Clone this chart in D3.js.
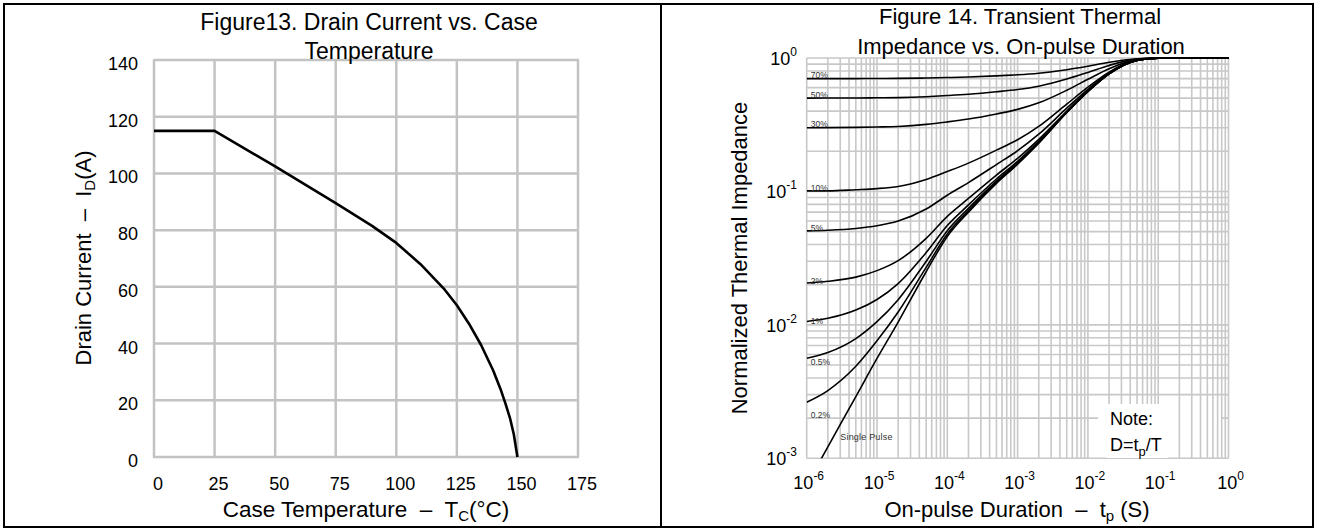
<!DOCTYPE html>
<html>
<head>
<meta charset="utf-8">
<script src="https://cdn.jsdelivr.net/npm/d3@7"></script>
<style>
body { margin: 0; background: #fff; }
svg { display: block; font-family: "Liberation Sans", Arial, sans-serif; }
</style>
</head>
<body>
<div id="chart"></div>
<script>
// Figure 13 : drain current vs case temperature
const caseTemp = [0, 25, 50, 75, 90, 100, 110, 120, 125, 130, 135, 140, 143, 145, 147, 148.5, 150];
const drainCurrent = [115, 115, 102.5, 89.5, 81.5, 75.5, 68, 59, 53.5, 47, 39.5, 30.5, 24, 19, 13.5, 8, 0];
const tempTicks = [0, 25, 50, 75, 100, 125, 150, 175];
const currentTicks = [0, 20, 40, 60, 80, 100, 120, 140];

// Figure 14 : transient thermal impedance
const pulseTime = [1e-6, 2e-6, 5e-6, 1e-5, 2e-5, 5e-5, 1e-4, 2e-4, 5e-4, 1e-3, 2e-3, 5e-3, 1e-2, 2e-2, 5e-2, 1e-1, 1];
const singlePulse = [0.00063, 0.00122, 0.0029, 0.0056, 0.0105, 0.025, 0.046, 0.07, 0.115, 0.16, 0.23, 0.39, 0.56, 0.76, 0.96, 0.995, 1];
const dutyLabels = ["70%", "50%", "30%", "10%", "5%", "2%", "1%", "0.5%", "0.2%"];
const dutyStart = [0.7, 0.5, 0.3, 0.1, 0.05, 0.02, 0.01, 0.005, 0.002];
const duty70 = [0.700, 0.700, 0.701, 0.702, 0.703, 0.708, 0.714, 0.721, 0.735, 0.748, 0.769, 0.817, 0.868, 0.928, 0.988, 0.999, 1];
const duty50 = [0.500, 0.501, 0.501, 0.503, 0.505, 0.513, 0.523, 0.535, 0.558, 0.580, 0.615, 0.695, 0.780, 0.880, 0.980, 0.998, 1];
const duty30 = [0.300, 0.301, 0.302, 0.304, 0.307, 0.318, 0.332, 0.349, 0.381, 0.412, 0.461, 0.573, 0.692, 0.832, 0.972, 0.997, 1];
const duty10 = [0.101, 0.101, 0.103, 0.105, 0.109, 0.123, 0.141, 0.163, 0.204, 0.244, 0.307, 0.451, 0.604, 0.784, 0.964, 0.996, 1];
const duty5 = [0.0506, 0.0512, 0.0528, 0.0553, 0.0600, 0.0738, 0.0937, 0.1165, 0.159, 0.202, 0.2685, 0.4205, 0.582, 0.772, 0.962, 0.995, 1];
const duty2 = [0.0206, 0.0212, 0.0228, 0.0255, 0.0303, 0.0445, 0.0651, 0.0886, 0.1327, 0.1768, 0.2454, 0.3982, 0.5688, 0.7648, 0.9608, 0.995, 1];
const duty1 = [0.0106, 0.0112, 0.0129, 0.0155, 0.0204, 0.0348, 0.0555, 0.0793, 0.1239, 0.1684, 0.2377, 0.3961, 0.5644, 0.7624, 0.9604, 0.995, 1];
const duty05 = [0.00563, 0.00621, 0.00789, 0.01057, 0.01545, 0.02988, 0.05077, 0.07465, 0.1194, 0.1642, 0.2339, 0.393, 0.5622, 0.7612, 0.9602, 0.995, 1];
const duty02 = [0.00263, 0.00322, 0.00489, 0.00759, 0.01248, 0.02695, 0.04791, 0.07186, 0.1168, 0.1617, 0.2315, 0.3912, 0.5609, 0.7605, 0.9601, 0.995, 1];
const dutyCurves = [duty70, duty50, duty30, duty10, duty5, duty2, duty1, duty05, duty02];
const timeExponents = [-6, -5, -4, -3, -2, -1, 0];
const impedanceExponents = [-3, -2, -1, 0];

const W = 1317, H = 531;
const svg = d3.select("#chart").append("svg").attr("width", W).attr("height", H);

// frames
svg.append("rect").attr("x", 4).attr("y", 4).attr("width", 1309).attr("height", 523)
  .attr("fill", "none").attr("stroke", "#000").attr("stroke-width", 2);
svg.append("line").attr("x1", 661).attr("x2", 661).attr("y1", 4).attr("y2", 527)
  .attr("stroke", "#000").attr("stroke-width", 2);

// ---------- left chart ----------
const xL = d3.scaleLinear().domain([0, 175]).range([154, 578]);
const yL = d3.scaleLinear().domain([0, 140]).range([457, 60]);
const left = svg.append("g");

left.append("g").selectAll("line").data(tempTicks).join("line")
  .attr("x1", d => xL(d)).attr("x2", d => xL(d))
  .attr("y1", yL(0)).attr("y2", yL(140))
  .attr("stroke", "#c3c3c3").attr("stroke-width", 2.5);
left.append("g").selectAll("line").data(currentTicks).join("line")
  .attr("x1", xL(0) - 1).attr("x2", xL(175) + 1)
  .attr("y1", d => yL(d)).attr("y2", d => yL(d))
  .attr("stroke", "#c3c3c3").attr("stroke-width", 2.5);

left.append("g").selectAll("text").data(tempTicks).join("text")
  .attr("x", d => xL(d) + 4).attr("y", 490)
  .attr("text-anchor", "middle").attr("font-size", 18).text(d => d);
left.append("g").selectAll("text").data(currentTicks).join("text")
  .attr("x", 138).attr("y", d => yL(d) + 10)
  .attr("text-anchor", "end").attr("font-size", 18).text(d => d);

const lineL = d3.line().x((d, i) => xL(caseTemp[i])).y(d => yL(d));
left.append("path").datum(drainCurrent).attr("d", lineL)
  .attr("fill", "none").attr("stroke", "#000").attr("stroke-width", 2.6)
  .attr("stroke-linejoin", "round");

left.append("text").attr("x", 369).attr("y", 30).attr("text-anchor", "middle")
  .attr("font-size", 23).text("Figure13. Drain Current vs. Case");
left.append("text").attr("x", 369).attr("y", 59).attr("text-anchor", "middle")
  .attr("font-size", 23).text("Temperature");

const xTitleL = left.append("text").attr("x", 366).attr("y", 517)
  .attr("text-anchor", "middle").attr("font-size", 22.5);
xTitleL.append("tspan").text("Case Temperature \u00a0\u2013\u00a0 T");
xTitleL.append("tspan").attr("font-size", 15).attr("dy", 4).text("C");
xTitleL.append("tspan").attr("dy", -4).text("(°C)");

const yTitleL = left.append("text").attr("transform", "translate(91,258) rotate(-90)")
  .attr("text-anchor", "middle").attr("font-size", 22);
yTitleL.append("tspan").text("Drain Current \u00a0\u2013\u00a0 I");
yTitleL.append("tspan").attr("font-size", 15).attr("dy", 4).text("D");
yTitleL.append("tspan").attr("dy", -4).text("(A)");

// ---------- right chart ----------
const xR = d3.scaleLog().domain([1e-6, 1]).range([806.7, 1228.5]);
const yR = d3.scaleLog().domain([1e-3, 1]).range([458.3, 58]);
const right = svg.append("g");

right.append("g").selectAll("line").data(yR.ticks()).join("line")
  .attr("x1", xR.range()[0]).attr("x2", xR.range()[1])
  .attr("y1", d => yR(d)).attr("y2", d => yR(d))
  .attr("stroke", "#c8c8c8").attr("stroke-width", 1.6);
// gap in the 0.002 line next to the note
right.append("rect").attr("x", 1098).attr("y", yR(0.002) - 2).attr("width", 123).attr("height", 4)
  .attr("fill", "#fff");
right.append("g").selectAll("line").data(xR.ticks()).join("line")
  .attr("x1", d => xR(d)).attr("x2", d => xR(d))
  .attr("y1", yR.range()[0]).attr("y2", yR.range()[1])
  .attr("stroke", "#c8c8c8").attr("stroke-width", 1.6);

svg.append("clipPath").attr("id", "clipR").append("rect")
  .attr("x", xR.range()[0]).attr("y", yR.range()[1] - 2)
  .attr("width", xR.range()[1] - xR.range()[0] + 2).attr("height", yR.range()[0] - yR.range()[1] + 2);

const lineR = d3.line().x((d, i) => xR(pulseTime[i])).y(d => yR(d)).curve(d3.curveMonotoneX);
const curves = right.append("g").attr("clip-path", "url(#clipR)");
curves.selectAll("path.duty").data(dutyCurves).join("path").attr("class", "duty")
  .attr("d", lineR).attr("fill", "none").attr("stroke", "#000").attr("stroke-width", 1.6);
curves.append("path").datum(singlePulse).attr("d", lineR)
  .attr("fill", "none").attr("stroke", "#000").attr("stroke-width", 1.6);

right.append("g").selectAll("text").data(dutyLabels).join("text")
  .attr("x", xR(1e-6) + 4).attr("y", (d, i) => yR(dutyStart[i]) - 0.5)
  .attr("font-size", 8.5).attr("fill", "#333").text(d => d);
right.append("text").attr("x", xR(3e-6)).attr("y", yR(0.00137))
  .attr("font-size", 9).attr("fill", "#333").attr("letter-spacing", 0.2).text("Single Pulse");

// note
right.append("rect").attr("x", 1106).attr("y", 404).attr("width", 62).attr("height", 54).attr("fill", "#fff");
right.append("text").attr("x", 1110).attr("y", 425).attr("font-size", 18).text("Note:");
const noteD = right.append("text").attr("x", 1110).attr("y", 451).attr("font-size", 18);
noteD.append("tspan").text("D=t");
noteD.append("tspan").attr("font-size", 13).attr("dy", 5).text("p");
noteD.append("tspan").attr("dy", -5).text("/T");

// power of ten labels
function powLabel(sel) {
  sel.append("tspan").text("10");
  sel.append("tspan").attr("font-size", 12).attr("dy", -9).text(d => d);
}
right.append("g").selectAll("text").data(timeExponents).join("text")
  .attr("x", d => xR(Math.pow(10, d)) + 2).attr("y", 489)
  .attr("text-anchor", "middle").attr("font-size", 18).call(powLabel);
right.append("g").selectAll("text").data(impedanceExponents).join("text")
  .attr("x", 797).attr("y", d => yR(Math.pow(10, d)) + 7)
  .attr("text-anchor", "end").attr("font-size", 18).call(powLabel);

right.append("text").attr("x", 1020).attr("y", 24).attr("text-anchor", "middle")
  .attr("font-size", 22).text("Figure 14. Transient Thermal");
right.append("text").attr("x", 1021).attr("y", 54).attr("text-anchor", "middle")
  .attr("font-size", 22).text("Impedance vs. On-pulse Duration");

const xTitleR = right.append("text").attr("x", 1017).attr("y", 517)
  .attr("text-anchor", "middle").attr("font-size", 22);
xTitleR.append("tspan").text("On-pulse Duration \u00a0\u2013\u00a0 t");
xTitleR.append("tspan").attr("font-size", 15).attr("dy", 4).text("p");
xTitleR.append("tspan").attr("dy", -4).text(" (S)");

right.append("text").attr("transform", "translate(747,258) rotate(-90)")
  .attr("text-anchor", "middle").attr("font-size", 22).text("Normalized Thermal Impedance");
</script>
</body>
</html>
